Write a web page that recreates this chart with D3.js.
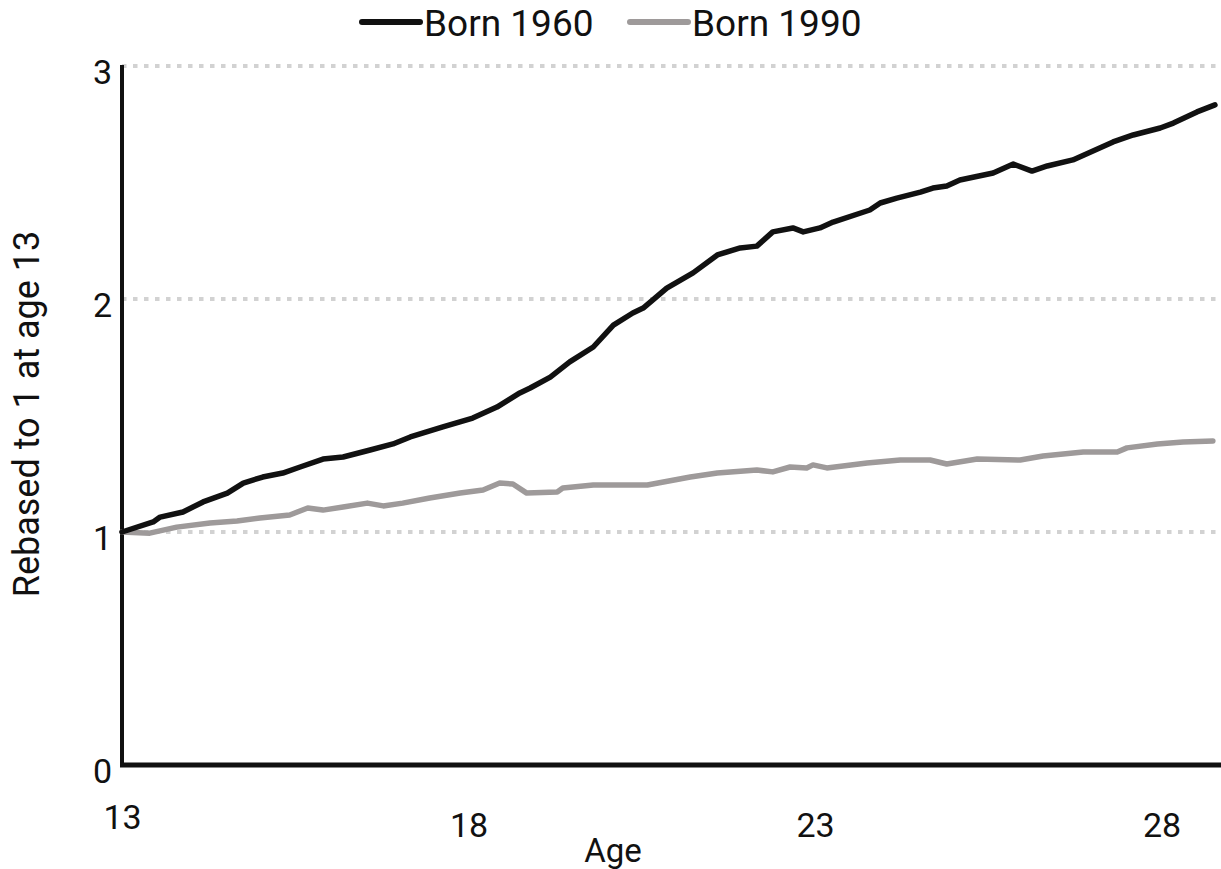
<!DOCTYPE html>
<html>
<head>
<meta charset="utf-8">
<script src="https://cdn.jsdelivr.net/npm/d3@7"></script>
<style>
  body { margin: 0; background: #fff; }
  svg { display: block; }
</style>
</head>
<body>
<div id="chart"></div>
<script>
// ages and values
const ages1960 = [13.00, 13.45, 13.55, 13.88, 14.17, 14.52, 14.75, 15.03, 15.32, 15.57, 15.90, 16.19, 16.58, 16.91, 17.16, 17.63, 18.06, 18.41, 18.74, 18.89, 19.18, 19.46, 19.80, 20.09, 20.37, 20.52, 20.86, 21.24, 21.59, 21.92, 22.16, 22.39, 22.68, 22.83, 23.07, 23.26, 23.79, 23.94, 24.18, 24.52, 24.70, 24.90, 25.09, 25.57, 25.86, 26.13, 26.35, 26.72, 27.30, 27.59, 27.98, 28.17, 28.51, 28.77];
const born1960 = [1.000, 1.043, 1.064, 1.086, 1.129, 1.167, 1.210, 1.236, 1.253, 1.279, 1.313, 1.322, 1.352, 1.378, 1.408, 1.451, 1.489, 1.536, 1.597, 1.618, 1.665, 1.730, 1.794, 1.888, 1.940, 1.961, 2.047, 2.112, 2.189, 2.219, 2.227, 2.288, 2.305, 2.288, 2.305, 2.330, 2.382, 2.412, 2.433, 2.459, 2.476, 2.485, 2.511, 2.541, 2.579, 2.549, 2.571, 2.597, 2.674, 2.704, 2.734, 2.755, 2.803, 2.833];

const ages1990 = [13.00, 13.40, 13.79, 14.27, 14.66, 14.99, 15.42, 15.68, 15.90, 16.19, 16.54, 16.77, 17.05, 17.44, 17.88, 18.21, 18.45, 18.64, 18.84, 19.28, 19.36, 19.80, 20.58, 21.20, 21.59, 22.16, 22.39, 22.64, 22.88, 22.97, 23.17, 23.75, 24.23, 24.66, 24.90, 25.34, 25.96, 26.29, 26.87, 27.36, 27.50, 27.94, 28.31, 28.74];
const born1990 = [1.000, 0.995, 1.021, 1.039, 1.047, 1.060, 1.073, 1.103, 1.094, 1.107, 1.124, 1.112, 1.124, 1.146, 1.167, 1.180, 1.210, 1.206, 1.167, 1.172, 1.189, 1.202, 1.202, 1.236, 1.253, 1.266, 1.258, 1.279, 1.275, 1.288, 1.275, 1.296, 1.309, 1.309, 1.292, 1.313, 1.309, 1.326, 1.343, 1.343, 1.361, 1.378, 1.386, 1.391];

const xTicks = [13, 18, 23, 28];
const yTicks = [0, 1, 2, 3];
const seriesNames = ["Born 1960", "Born 1990"];
const seriesColors = ["#111111", "#9e9a9a"];

const W = 1221, H = 869;
const font = "Roboto, sans-serif";
const svg = d3.select("#chart").append("svg")
    .attr("width", W)
    .attr("height", H);

const x = d3.scaleLinear().domain([13, 28.85]).range([122, 1220.5]);
const y = d3.scaleLinear().domain([0, 3]).range([765, 66]);

// dotted gridlines
svg.append("g")
    .selectAll("line")
    .data(yTicks.filter(d => d > 0))
    .join("line")
    .attr("x1", x(13))
    .attr("x2", W)
    .attr("y1", d => y(d))
    .attr("y2", d => y(d))
    .attr("stroke", "#d2d2d2")
    .attr("stroke-width", 4)
    .attr("stroke-dasharray", "4.5,6.5");

// y axis labels
const yAxis = svg.append("g")
    .attr("transform", "translate(" + x(13) + ",0)")
    .call(d3.axisLeft(y).tickValues(yTicks).tickSize(0).tickPadding(10).tickFormat(d3.format("d")));
yAxis.select(".domain").remove();
yAxis.selectAll("text")
    .attr("font-family", font)
    .attr("font-size", 34)
    .attr("dy", "0.5em")
    .attr("fill", "#111");

// x axis labels
const xAxis = svg.append("g")
    .attr("transform", "translate(0," + y(0) + ")")
    .call(d3.axisBottom(x).tickValues(xTicks).tickSize(0).tickPadding(52).tickFormat(d3.format("d")));
xAxis.select(".domain").remove();
xAxis.selectAll("text")
    .attr("font-family", font)
    .attr("font-size", 34)
    .attr("fill", "#111")
    .attr("dy", (d, i) => i === 0 ? "0.35em" : "0.6em");

// axis lines
svg.append("line")
    .attr("x1", x(13)).attr("x2", x(13))
    .attr("y1", y(3) - 1).attr("y2", y(0))
    .attr("stroke", "#111").attr("stroke-width", 4);
svg.append("line")
    .attr("x1", x(13) - 2).attr("x2", W)
    .attr("y1", y(0)).attr("y2", y(0))
    .attr("stroke", "#111").attr("stroke-width", 5);

// series
const line = d3.line()
    .x(d => x(d[0]))
    .y(d => y(d[1]));

const series = [
    d3.zip(ages1990, born1990),
    d3.zip(ages1960, born1960)
];
svg.append("path")
    .datum(series[0])
    .attr("fill", "none")
    .attr("stroke", seriesColors[1])
    .attr("stroke-width", 5.5)
    .attr("stroke-linejoin", "round")
    .attr("stroke-linecap", "round")
    .attr("d", line);
svg.append("path")
    .datum(series[1])
    .attr("fill", "none")
    .attr("stroke", seriesColors[0])
    .attr("stroke-width", 5.5)
    .attr("stroke-linejoin", "round")
    .attr("stroke-linecap", "round")
    .attr("d", line);

// axis titles
svg.append("text")
    .attr("x", 613)
    .attr("y", 862)
    .attr("text-anchor", "middle")
    .attr("font-family", font)
    .attr("font-size", 33)
    .attr("fill", "#111")
    .text("Age");

svg.append("text")
    .attr("transform", "translate(39,414) rotate(-90)")
    .attr("text-anchor", "middle")
    .attr("font-family", font)
    .attr("font-size", 36)
    .attr("fill", "#111")
    .text("Rebased to 1 at age 13");

// legend
const legendX = [362, 630];
const legend = svg.append("g")
    .selectAll("g")
    .data(seriesNames)
    .join("g")
    .attr("transform", (d, i) => "translate(" + legendX[i] + ",22)");
legend.append("line")
    .attr("x1", 0).attr("x2", 58)
    .attr("stroke", (d, i) => seriesColors[i])
    .attr("stroke-width", 6)
    .attr("stroke-linecap", "round");
legend.append("text")
    .attr("x", 62)
    .attr("y", 14)
    .attr("font-family", font)
    .attr("font-size", 37)
    .attr("fill", "#111")
    .text(d => d);
</script>
</body>
</html>
